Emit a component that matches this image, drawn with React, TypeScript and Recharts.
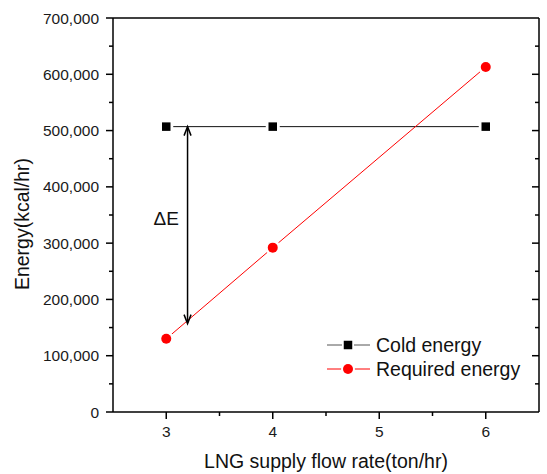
import React from "react";
import {
  LineChart,
  Line,
  XAxis,
  YAxis,
  Legend,
  ReferenceLine,
  ReferenceDot,
} from "recharts";

const FONT = "Arial, 'Liberation Sans', sans-serif";

// data
const flowRates = [3, 4, 6];
const coldEnergy = [507000, 507000, 507000];
const requiredEnergy = [130000, 292000, 613000];

// axis ticks
const xTicks = [3, 3.5, 4, 4.5, 5, 5.5, 6];
const topTicks = [2.9, 3.3, 3.7, 4.1, 4.5, 4.9, 5.3, 5.7, 6.1];
const topMajor = [3.3, 4.1, 4.9, 5.7];
const yTicks = [
  0, 50000, 100000, 150000, 200000, 250000, 300000, 350000,
  400000, 450000, 500000, 550000, 600000, 650000, 700000,
];
const rightTicks = [
  50000, 100000, 150000, 200000, 250000, 300000, 350000,
  400000, 450000, 500000, 550000, 600000, 650000,
];

// ΔE annotation
const deltaX = 3.2;
const deltaTop = 507000;
const deltaBottom = 157000;
const deltaLabelX = 3.0;
const deltaLabelY = 345000;

const data = flowRates.map((x, i) => ({
  x,
  cold: coldEnergy[i],
  required: requiredEnergy[i],
}));

const BottomTick = ({ x, y, payload }: any) => {
  const major = Number.isInteger(payload.value);
  return (
    <g>
      <line x1={x} x2={x} y1={y} y2={y + (major ? 7 : 4)} stroke="#000" strokeWidth={1.5} />
      {major && (
        <text x={x} y={y + 25} textAnchor="middle" fontSize={15.5} fontFamily={FONT} fill="#1a1a1a">
          {payload.value}
        </text>
      )}
    </g>
  );
};

const LeftTick = ({ x, y, payload }: any) => {
  const major = payload.value % 100000 === 0;
  return (
    <g>
      <line x1={x} x2={x - (major ? 7 : 4)} y1={y} y2={y} stroke="#000" strokeWidth={1.5} />
      {major && (
        <text x={x - 14} y={y + 5.5} textAnchor="end" fontSize={15.5} fontFamily={FONT} fill="#1a1a1a">
          {payload.value.toLocaleString("en-US")}
        </text>
      )}
    </g>
  );
};

const TopTick = ({ x, y, payload }: any) => {
  const major = topMajor.includes(payload.value);
  return <line x1={x} x2={x} y1={y} y2={y + (major ? 7 : 4)} stroke="#000" strokeWidth={1.5} />;
};

const RightTick = ({ x, y, payload }: any) => {
  const major = payload.value % 100000 === 0;
  return <line x1={x} x2={x - (major ? 7 : 4)} y1={y} y2={y} stroke="#000" strokeWidth={1.5} />;
};

const SquareDot = (props: any) => {
  const { cx, cy, index } = props;
  return (
    <g key={`sq-${index}`}>
      <rect x={cx - 7} y={cy - 7} width={14} height={14} fill="#fff" />
      <rect x={cx - 4.25} y={cy - 4.25} width={8.5} height={8.5} fill="#000" />
    </g>
  );
};

const CircleDot = (props: any) => {
  const { cx, cy, index } = props;
  return (
    <g key={`ci-${index}`}>
      <circle cx={cx} cy={cy} r={7.5} fill="#fff" />
      <circle cx={cx} cy={cy} r={5} fill="#ff0000" />
    </g>
  );
};

// double headed arrow between the two curves
const ArrowShape = (props: any) => {
  const { x1, y1, x2, y2 } = props;
  const top = Math.min(y1, y2);
  const bottom = Math.max(y1, y2);
  const x = (x1 + x2) / 2;
  return (
    <g stroke="#000" strokeWidth={1.5} fill="none">
      <line x1={x} x2={x} y1={top + 1} y2={bottom - 1} />
      <path d={`M${x - 3.5},${top + 9} L${x},${top} L${x + 3.5},${top + 9}`} />
      <path d={`M${x - 3.5},${bottom - 9} L${x},${bottom} L${x + 3.5},${bottom - 9}`} />
    </g>
  );
};

const LegendContent = ({ payload }: any) => (
  <div style={{ fontFamily: FONT, fontSize: 19.5, color: "#111", lineHeight: "24px" }}>
    {(payload || []).map((entry: any, i: number) => {
      const isCold = entry.dataKey === "cold";
      return (
        <div key={`leg-${i}`} style={{ display: "flex", alignItems: "center", height: 24 }}>
          <svg width={48} height={24}>
            <line x1={2} x2={45} y1={12} y2={12} stroke={isCold ? "#555" : "#ff0000"} strokeWidth={1} />
            {isCold ? (
              <>
                <rect x={17} y={6} width={12} height={12} fill="#fff" />
                <rect x={18.75} y={7.75} width={8.5} height={8.5} fill="#000" />
              </>
            ) : (
              <>
                <circle cx={23} cy={12} r={7} fill="#fff" />
                <circle cx={23} cy={12} r={5} fill="#ff0000" />
              </>
            )}
          </svg>
          <span style={{ marginLeft: 3, whiteSpace: "nowrap" }}>{entry.value}</span>
        </div>
      );
    })}
  </div>
);

export default function App() {
  return (
    <div style={{ position: "absolute", left: 0, top: 0, background: "#fff" }}>
      <LineChart width={547} height={474} data={data} margin={{ top: 0, right: 0, left: 0, bottom: 0 }}>
        <XAxis
          dataKey="x"
          type="number"
          domain={[2.5, 6.5]}
          ticks={xTicks}
          interval={0}
          height={62}
          tickSize={0}
          tickMargin={0}
          tickLine={false}
          tick={BottomTick}
          axisLine={{ stroke: "#000", strokeWidth: 1.5 }}
          allowDataOverflow
          label={{
            value: "LNG supply flow rate(ton/hr)",
            position: "insideBottom",
            offset: 6,
            fontSize: 19.5,
            fontFamily: FONT,
            fill: "#111",
          }}
        />
        <XAxis
          xAxisId="top"
          orientation="top"
          type="number"
          domain={[2.5, 6.5]}
          ticks={topTicks}
          interval={0}
          height={18}
          tickSize={0}
          tickMargin={0}
          tickLine={false}
          tick={TopTick}
          axisLine={{ stroke: "#000", strokeWidth: 1.5 }}
          allowDataOverflow
        />
        <YAxis
          type="number"
          domain={[0, 700000]}
          ticks={yTicks}
          interval={0}
          width={113}
          tickSize={0}
          tickMargin={0}
          tickLine={false}
          tick={LeftTick}
          axisLine={{ stroke: "#000", strokeWidth: 1.5 }}
          allowDataOverflow
          label={{
            value: "Energy(kcal/hr)",
            angle: -90,
            position: "center",
            dx: -34.5,
            dy: 9,
            fontSize: 19.5,
            fontFamily: FONT,
            fill: "#111",
          }}
        />
        <YAxis
          yAxisId="right"
          orientation="right"
          type="number"
          domain={[0, 700000]}
          ticks={rightTicks}
          interval={0}
          width={8}
          tickSize={0}
          tickMargin={0}
          tickLine={false}
          tick={RightTick}
          axisLine={{ stroke: "#000", strokeWidth: 1.5 }}
          allowDataOverflow
        />
        <Line
          dataKey="cold"
          name="Cold energy"
          stroke="#111"
          strokeWidth={1}
          dot={SquareDot}
          activeDot={false}
          isAnimationActive={false}
        />
        <Line
          dataKey="required"
          name="Required energy"
          stroke="#ff0000"
          strokeWidth={1}
          dot={CircleDot}
          activeDot={false}
          isAnimationActive={false}
        />
        <ReferenceLine
          segment={[
            { x: deltaX, y: deltaTop },
            { x: deltaX, y: deltaBottom },
          ]}
          shape={ArrowShape}
          ifOverflow="visible"
        />
        <ReferenceDot
          x={deltaLabelX}
          y={deltaLabelY}
          r={0}
          fill="none"
          stroke="none"
          label={{ value: "ΔE", position: "center", fontSize: 19, fontFamily: FONT, fill: "#111" }}
        />
        <Legend
          layout="horizontal"
          verticalAlign="middle"
          content={LegendContent}
          wrapperStyle={{ position: "absolute", left: 325, top: 333, width: "auto" }}
        />
      </LineChart>
    </div>
  );
}
